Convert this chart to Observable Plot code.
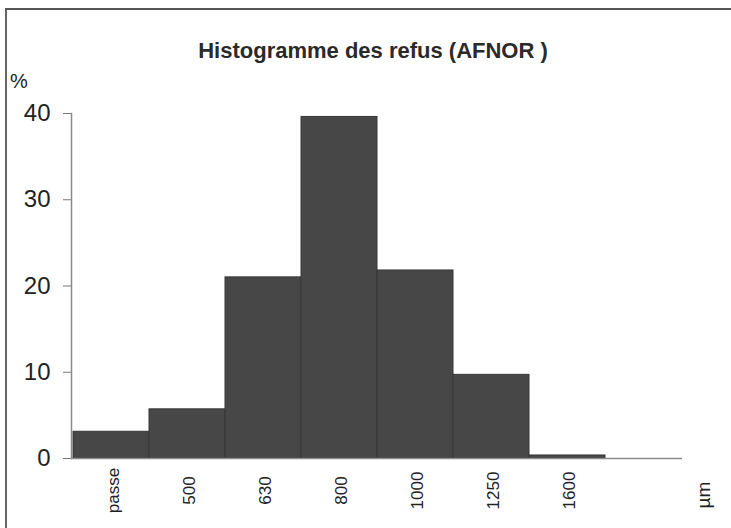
<!DOCTYPE html>
<html>
<head>
<meta charset="utf-8">
<script src="https://cdn.jsdelivr.net/npm/d3@7"></script>
<script src="https://cdn.jsdelivr.net/npm/@observablehq/plot@0.6"></script>
<style>
  body { margin: 0; background: #fff; }
  #wrap { position: relative; width: 731px; height: 528px; overflow: hidden; font-family: "Liberation Sans", Arial, sans-serif; }
  #frame { position: absolute; left: 5px; top: 8px; width: 740px; height: 540px; border-top: 2px solid #555; border-left: 2px solid #666; box-sizing: border-box; }
  #chart { position: absolute; left: 0; top: 0; }
  .title { position: absolute; left: 0; width: 746px; top: 38px; text-align: center; font-weight: bold; font-size: 22px; color: #2a2a2a; }
  .unitY { position: absolute; left: 10px; top: 70px; font-size: 20px; color: #222; }
  .unitX { position: absolute; left: 691px; top: 484px; font-size: 19px; color: #222; transform: rotate(-90deg); transform-origin: center; }
</style>
</head>
<body>
<div id="wrap">
  <div id="frame"></div>
  <div id="chart"></div>
  <div class="title">Histogramme des refus (AFNOR )</div>
  <div class="unitY">%</div>
  <div class="unitX">µm</div>
</div>
<script>
const categories = ["passe", "500", "630", "800", "1000", "1250", "1600", ""];
const values = [3.1, 5.7, 21.0, 39.6, 21.8, 9.7, 0.35, 0];
const yTicks = [0, 10, 20, 30, 40];

const data = categories.map((c, i) => ({cat: c, v: values[i]}));

const plot = Plot.plot({
  width: 731,
  height: 528,
  marginLeft: 71,
  marginRight: 49,
  marginTop: 113,
  marginBottom: 70,
  style: {fontFamily: "'Liberation Sans', Arial, sans-serif", background: "transparent", color: "#222"},
  x: {domain: categories, padding: 0, label: null, axis: null},
  y: {domain: [0, 40], label: null},
  marks: [
    Plot.barY(data.filter(d => d.v > 0), {x: "cat", y: "v", fill: "#474747", stroke: "#363636", strokeWidth: 1}),
    Plot.ruleY([0], {stroke: "#8a8a8a", strokeWidth: 1.5}),
    Plot.frame({anchor: "left", stroke: "#8a8a8a", strokeWidth: 1.5}),
    Plot.axisY({ticks: yTicks, tickSize: 8, tickPadding: 13, fontSize: 24, stroke: "#777", label: null}),
    Plot.text(categories, {x: d => d, frameAnchor: "bottom", dx: 7, dy: 32, rotate: -90, textAnchor: "middle", fontSize: 17, fill: "#222"})
  ]
});
document.getElementById("chart").appendChild(plot);
</script>
</body>
</html>
